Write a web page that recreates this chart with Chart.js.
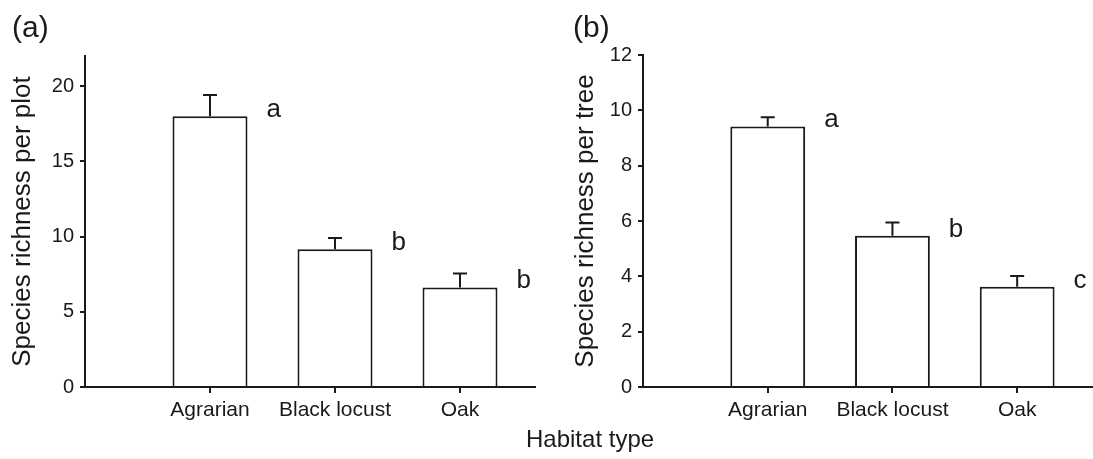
<!DOCTYPE html>
<html>
<head>
<meta charset="utf-8">
<script src="https://cdn.jsdelivr.net/npm/chart.js@4.4.1/dist/chart.umd.min.js"></script>
<style>
  body { margin: 0; background: #fff; }
  #wrap { position: relative; width: 1093px; height: 459px; overflow: hidden; font-family: "Liberation Sans", Arial, sans-serif; color: #1a1a1a; }
  #boxA { position: absolute; left: 0; top: 0; width: 546px; height: 459px; }
  #boxB { position: absolute; left: 546px; top: 0; width: 547px; height: 459px; }
  #xtitle { position: absolute; left: 526px; top: 427px; font-size: 24px; line-height: 1; white-space: nowrap; }
</style>
</head>
<body>
<div id="wrap">
  <div id="boxA"><canvas id="chartA"></canvas></div>
  <div id="boxB"><canvas id="chartB"></canvas></div>
  <div id="xtitle">Habitat type</div>
</div>
<script>
const habitats = ["Agrarian", "Black locust", "Oak"];

// (a) species richness per plot
const plotMeans = [18.0, 9.15, 6.62];
const plotErrors = [1.4, 0.75, 0.93];
const plotLetters = ["a", "b", "b"];
const plotTicks = [0, 5, 10, 15, 20];

// (b) species richness per tree
const treeMeans = [9.42, 5.47, 3.62];
const treeErrors = [0.33, 0.48, 0.39];
const treeLetters = ["a", "b", "c"];
const treeTicks = [0, 2, 4, 6, 8, 10, 12];

const ink = "#1a1a1a";
const fontFamily = "'Liberation Sans', Arial, sans-serif";

// error bars (upper only) and the significance letters
const extrasPlugin = {
  id: "extras",
  afterDatasetsDraw(chart, args, opts) {
    const ctx = chart.ctx;
    const meta = chart.getDatasetMeta(0);
    const yScale = chart.scales.y;
    ctx.save();
    ctx.strokeStyle = ink;
    ctx.lineWidth = 2;
    meta.data.forEach(function (bar, i) {
      const y0 = yScale.getPixelForValue(opts.means[i]);
      const y1 = yScale.getPixelForValue(opts.means[i] + opts.errors[i]);
      ctx.beginPath();
      ctx.moveTo(bar.x, y0);
      ctx.lineTo(bar.x, y1);
      ctx.moveTo(bar.x - 7, y1);
      ctx.lineTo(bar.x + 7, y1);
      ctx.stroke();

      ctx.fillStyle = ink;
      ctx.font = "26px " + fontFamily;
      ctx.textAlign = "left";
      ctx.textBaseline = "alphabetic";
      ctx.fillText(opts.letters[i], bar.x + bar.width / 2 + 19, y0 + 1);
    });
    ctx.font = "30px " + fontFamily;
    ctx.textAlign = "left";
    ctx.textBaseline = "alphabetic";
    ctx.fillText(opts.panel, opts.panelX, 37);
    ctx.restore();
  }
};

function makePanel(id, means, errors, letters, ticks, yMax, yTitle, panel, layout) {
  const ctx = document.getElementById(id).getContext("2d");
  return new Chart(ctx, {
    type: "bar",
    data: {
      datasets: [
        {
          data: means.map(function (v, i) { return { x: i + 1, y: v }; }),
          backgroundColor: "#fff",
          borderColor: ink,
          borderWidth: 2,
          barPercentage: 0.6,
          categoryPercentage: 1.0,
        },
      ],
    },
    plugins: [extrasPlugin],
    options: {
      responsive: true,
      maintainAspectRatio: false,
      animation: false,
      layout: { padding: { top: layout.top, right: layout.right, bottom: 0, left: 0 } },
      plugins: {
        legend: { display: false },
        tooltip: { enabled: false },
        extras: { means: means, errors: errors, letters: letters, panel: panel, panelX: layout.panelX },
      },
      scales: {
        x: {
          type: "linear",
          min: 0,
          max: 3.6,
          offset: false,
          afterBuildTicks: function (scale) {
            scale.ticks = habitats.map(function (h, i) { return { value: i + 1 }; });
          },
          afterFit: function (scale) { scale.height = 72; },
          grid: { offset: false, drawOnChartArea: false, drawTicks: true, tickLength: 6, color: ink, lineWidth: 2 },
          border: { display: true, color: ink, width: 2 },
          ticks: {
            color: ink,
            padding: 5,
            maxRotation: 0,
            autoSkip: false,
            font: { family: fontFamily, size: 21 },
            callback: function (value) { return habitats[value - 1]; },
          },
        },
        y: {
          min: 0,
          max: yMax,
          afterBuildTicks: function (scale) {
            scale.ticks = ticks.map(function (t) { return { value: t }; });
          },
          afterFit: function (scale) { scale.width = layout.axisX; },
          grid: { drawOnChartArea: false, drawTicks: true, tickLength: 5, color: ink, lineWidth: 2 },
          border: { display: true, color: ink, width: 2 },
          ticks: {
            color: ink,
            padding: 6,
            font: { family: fontFamily, size: 20 },
          },
          title: {
            display: true,
            text: yTitle,
            color: ink,
            padding: { top: layout.titlePad, bottom: 0 },
            font: { family: fontFamily, size: 26 },
          },
        },
      },
    },
  });
}

makePanel("chartA", plotMeans, plotErrors, plotLetters, plotTicks, 22,
  "Species richness per plot", "(a)",
  { top: 56, right: 11, axisX: 85, titlePad: 7, panelX: 12 });
makePanel("chartB", treeMeans, treeErrors, treeLetters, treeTicks, 12,
  "Species richness per tree", "(b)",
  { top: 55, right: 1, axisX: 97, titlePad: 24, panelX: 27 });
</script>
</body>
</html>
